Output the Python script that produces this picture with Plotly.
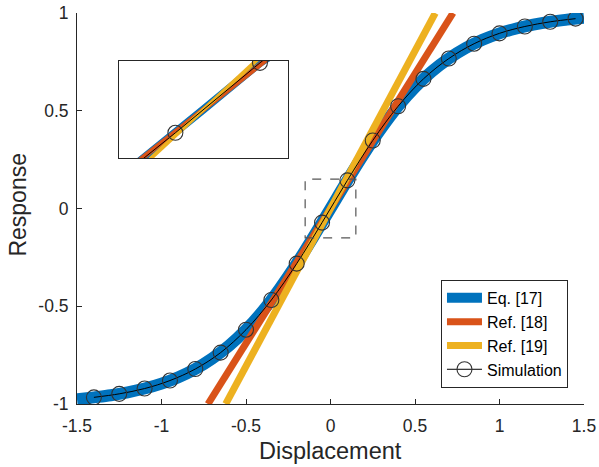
import plotly.graph_objects as go

# ---- data ----
eq_x = [-1.5, -1.4, -1.3, -1.2, -1.1, -1.0, -0.9, -0.8, -0.7, -0.6, -0.5, -0.4, -0.3, -0.2, -0.1,
        0.0, 0.1, 0.2, 0.3, 0.4, 0.5, 0.6, 0.7, 0.8, 0.9, 1.0, 1.1, 1.2, 1.3, 1.4, 1.5]
eq_y = [-0.976, -0.966, -0.955, -0.940, -0.921, -0.896, -0.863, -0.821, -0.767, -0.701, -0.620,
        -0.523, -0.409, -0.282, -0.144, 0.0, 0.144, 0.282, 0.409, 0.523, 0.620, 0.701, 0.767,
        0.821, 0.863, 0.896, 0.921, 0.940, 0.955, 0.966, 0.976]

ref18_x = [-0.725, 0.725]
ref18_y = [-1.0, 1.0]

ref19_x = [-0.62, 0.62]
ref19_y = [-1.0, 1.0]

sim_x = [-1.4, -1.25, -1.1, -0.95, -0.8, -0.65, -0.5, -0.35, -0.2, -0.05,
         0.1, 0.25, 0.4, 0.55, 0.7, 0.85, 1.0, 1.15, 1.3, 1.45]
sim_y = [-0.966, -0.948, -0.921, -0.880, -0.821, -0.737, -0.620, -0.468, -0.282, -0.072,
         0.144, 0.348, 0.523, 0.663, 0.767, 0.843, 0.896, 0.931, 0.955, 0.971]

x_ticks = [-1.5, -1, -0.5, 0, 0.5, 1, 1.5]
x_ticktext = ["-1.5", "-1", "-0.5", "0", "0.5", "1", "1.5"]
y_ticks = [-1, -0.5, 0, 0.5, 1]
y_ticktext = ["-1", "-0.5", "0", "0.5", "1"]

zoom_range = [-0.15, 0.15]

names = ["Eq. [17]", "Ref. [18]", "Ref. [19]", "Simulation"]

# ---- styling ----
BLUE = "#0072BD"
RED = "#D95319"
YELLOW = "#EDB120"
AX = "#262626"
FONT = "Liberation Sans, Arial, sans-serif"

fig = go.Figure()

# main axes
fig.add_trace(go.Scatter(x=eq_x, y=eq_y, mode="lines", name=names[0],
                         line=dict(color=BLUE, width=12, shape="spline")))
fig.add_trace(go.Scatter(x=ref18_x, y=ref18_y, mode="lines", name=names[1],
                         line=dict(color=RED, width=7)))
fig.add_trace(go.Scatter(x=ref19_x, y=ref19_y, mode="lines", name=names[2],
                         line=dict(color=YELLOW, width=7)))
fig.add_trace(go.Scatter(x=sim_x, y=sim_y, mode="lines+markers", name=names[3],
                         line=dict(color="black", width=1, shape="spline"),
                         marker=dict(symbol="circle-open", size=15,
                                     line=dict(color="#333333", width=1.1), color="#333333")))

# inset axes
fig.add_trace(go.Scatter(x=eq_x, y=eq_y, mode="lines", showlegend=False,
                         line=dict(color=BLUE, width=8), xaxis="x2", yaxis="y2"))
fig.add_trace(go.Scatter(x=ref18_x, y=ref18_y, mode="lines", showlegend=False,
                         line=dict(color=RED, width=5), xaxis="x2", yaxis="y2"))
fig.add_trace(go.Scatter(x=ref19_x, y=ref19_y, mode="lines", showlegend=False,
                         line=dict(color=YELLOW, width=4), xaxis="x2", yaxis="y2"))
fig.add_trace(go.Scatter(x=sim_x, y=sim_y, mode="lines+markers", showlegend=False,
                         line=dict(color="black", width=1),
                         marker=dict(symbol="circle-open", size=15,
                                     line=dict(color="#333333", width=1.1), color="#333333"),
                         xaxis="x2", yaxis="y2"))

axis_common = dict(showgrid=False, zeroline=False, showline=True, linecolor=AX, linewidth=1,
                   ticks="inside", ticklen=5, tickwidth=1, tickcolor=AX, automargin=False,
                   tickfont=dict(family=FONT, size=17.5, color=AX))

inset_common = dict(range=zoom_range, showgrid=False, zeroline=False, showticklabels=False,
                    ticks="", showline=True, mirror=True, linecolor=AX, linewidth=1,
                    automargin=False)

fig.update_layout(
    width=599, height=467,
    margin=dict(l=77, r=15, t=13, b=63, autoexpand=False),
    paper_bgcolor="white", plot_bgcolor="white",
    font=dict(family=FONT, color=AX),
    xaxis=dict(range=[-1.5, 1.5], tickvals=x_ticks, ticktext=x_ticktext,
               domain=[0, 1], anchor="y", ticklabelstandoff=6, **axis_common),
    yaxis=dict(range=[-1, 1], tickvals=y_ticks, ticktext=y_ticktext,
               domain=[0, 1], anchor="x", ticklabelstandoff=4, **axis_common),
    xaxis2=dict(domain=[0.0828, 0.4165], anchor="y2", **inset_common),
    yaxis2=dict(domain=[0.629, 0.8775], anchor="x2", **inset_common),
    legend=dict(x=0.9684, y=0.041, xanchor="right", yanchor="bottom",
                bgcolor="white", bordercolor=AX, borderwidth=1,
                font=dict(family=FONT, size=16, color="black"),
                itemwidth=35, tracegroupgap=0),
    shapes=[dict(type="rect", xref="x", yref="y",
                 x0=zoom_range[0], x1=zoom_range[1], y0=zoom_range[0], y1=zoom_range[1],
                 line=dict(color="#555555", width=1.2, dash="dash"), layer="above")],
    annotations=[
        dict(text="Displacement", xref="paper", yref="paper", x=0.5, y=-0.121,
             xanchor="center", yanchor="middle", showarrow=False,
             font=dict(family=FONT, size=23.5, color=AX)),
        dict(text="Response", xref="paper", yref="paper", x=-0.1164, y=0.51,
             xanchor="center", yanchor="middle", showarrow=False, textangle=-90,
             font=dict(family=FONT, size=23, color=AX)),
    ],
)

fig.write_html("out.html", config={"displayModeBar": False},
               post_script="document.body.style.margin='0px';document.body.style.overflow='hidden';")
